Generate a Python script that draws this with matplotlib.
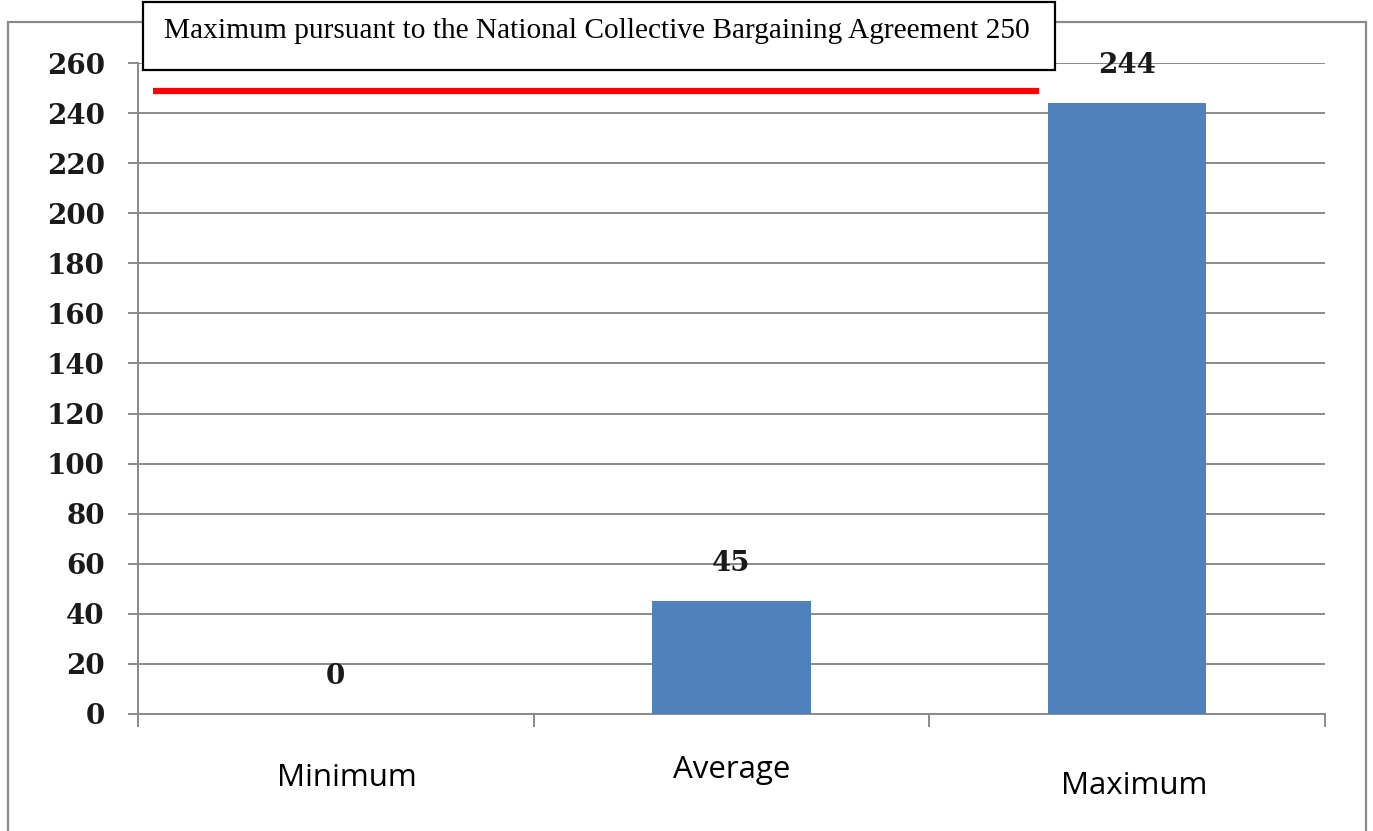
import matplotlib.pyplot as plt
from matplotlib.patches import Rectangle

# ------------------------------------------------------------
# Chart values
# ------------------------------------------------------------
categories = ["Minimum", "Average", "Maximum"]
values = [0, 45, 244]
limit_value = 250
limit_label = f"Maximum pursuant to the National Collective Bargaining Agreement {limit_value}"
y_ticks = list(range(0, 261, 20))

BAR_COLOR = "#4F81BD"
GRID_COLOR = "#8A8A8A"
NUM_FONT = dict(fontfamily="DejaVu Serif", fontweight="bold", fontsize=20,
                color="#1a1a1a")

fig = plt.figure(figsize=(13.73, 8.31), dpi=100)
fig.patch.set_facecolor("white")

# outer chart frame (runs off the bottom edge, like the source)
fig.patches.append(
    Rectangle((8 / 1373, -0.05), 1358 / 1373, 1.05 - 22 / 831,
              transform=fig.transFigure, fill=False,
              edgecolor=GRID_COLOR, linewidth=1.6, zorder=0)
)

ax = fig.add_axes([138 / 1373, 1 - 714 / 831, 1187 / 1373, 651 / 831])
ax.set_facecolor("none")

x = list(range(len(categories)))
ax.bar(x, values, width=0.4, color=BAR_COLOR, zorder=3)

ax.set_xlim(-0.5, len(categories) - 0.5)
ax.set_ylim(0, 260)

# gridlines
ax.set_yticks(y_ticks)
ax.yaxis.grid(True, color=GRID_COLOR, linewidth=1.4, zorder=1)
ax.set_axisbelow(True)
ax.set_yticklabels([str(t) for t in y_ticks], **NUM_FONT)
ax.tick_params(axis="y", length=7, width=1.4, color=GRID_COLOR, pad=17)

# category boundary ticks on x axis, labels drawn separately
ax.set_xticks([i - 0.5 for i in range(len(categories) + 1)])
ax.set_xticklabels([])
ax.tick_params(axis="x", length=9, width=1.4, color=GRID_COLOR)

for side in ["top", "right"]:
    ax.spines[side].set_visible(False)
for side in ["left", "bottom"]:
    ax.spines[side].set_color(GRID_COLOR)
    ax.spines[side].set_linewidth(1.4)

label_offsets = [(8, -46), (0, -40), (5, -52)]
for i, name in enumerate(categories):
    ax.annotate(name, xy=(i, 0), xycoords=("data", "axes fraction"),
                xytext=label_offsets[i], textcoords="offset points",
                ha="center", va="center", fontsize=22.5,
                fontfamily="Open Sans", color="black")

# value labels above bars
for i, v in enumerate(values):
    ax.annotate(str(v), xy=(i, v), xytext=(0, 27), textcoords="offset points",
                ha="center", va="center", **NUM_FONT)

# agreement limit line
ax.hlines(limit_value - 1, -0.462, 1.778, colors="#FF0000", linewidth=4.5,
          zorder=4)

# caption box for the limit
fig.patches.append(
    Rectangle((143 / 1373, 1 - 70 / 831), 912 / 1373, 68 / 831,
              transform=fig.transFigure, facecolor="white",
              edgecolor="black", linewidth=1.6, zorder=5)
)
fig.text(597 / 1373, 1 - 31 / 831, limit_label, ha="center", va="center",
         fontsize=21.2, fontfamily="Liberation Serif", color="black", zorder=6)

fig.savefig("out.png", dpi=100)
